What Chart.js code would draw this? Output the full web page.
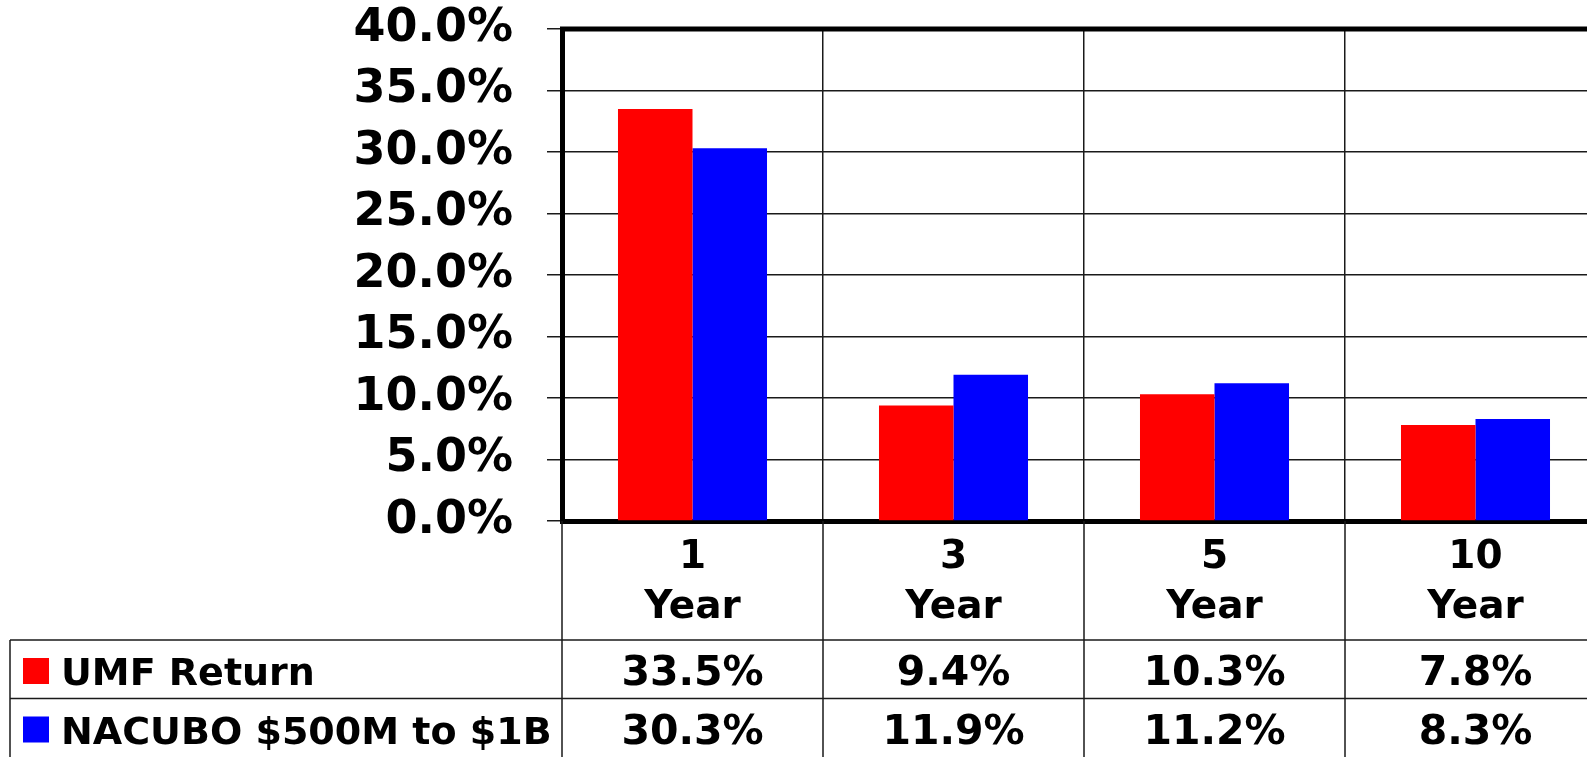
<!DOCTYPE html>
<html lang="en">
<head>
  <meta charset="UTF-8">
  <title>UMF Return vs NACUBO</title>
  <script src="https://cdn.jsdelivr.net/npm/chart.js"></script>
  <style>
    html, body { margin: 0; padding: 0; background: #fff; overflow: hidden; }
  </style>
</head>
<body>
  <canvas id="chartCanvas" width="1612" height="757"></canvas>

  <script>
    // chart data
    const categories = [['1', 'Year'], ['3', 'Year'], ['5', 'Year'], ['10', 'Year']];
    const seriesNames = ['UMF Return', 'NACUBO $500M to $1B'];
    const umfReturn = [33.5, 9.4, 10.3, 7.8];
    const nacuboReturn = [30.3, 11.9, 11.2, 8.3];
    const yMin = 0, yMax = 40, yStep = 5;

    const FONT = '"DejaVu Sans", Verdana, sans-serif';

    // draws the frame and the data table under the x axis
    const dataTable = {
      id: 'dataTable',
      afterDraw(chart) {
        const { ctx, chartArea: a, scales: { x } } = chart;
        const H = chart.height;
        const n = chart.data.labels.length;
        const step = (a.right - a.left) / n;
        const row1 = x.bottom;
        const rowH = (H - row1) / 2;

        ctx.save();
        // thick top / right frame
        ctx.strokeStyle = '#000';
        ctx.lineWidth = 5;
        ctx.beginPath();
        ctx.moveTo(a.left - 2, a.top);
        ctx.lineTo(a.right, a.top);
        ctx.lineTo(a.right, a.bottom);
        ctx.stroke();

        // table grid
        ctx.strokeStyle = '#1a1a1a';
        ctx.lineWidth = 1.5;
        ctx.beginPath();
        ctx.moveTo(10, row1); ctx.lineTo(a.right, row1);
        ctx.moveTo(10, row1 + rowH); ctx.lineTo(a.right, row1 + rowH);
        ctx.moveTo(10, row1); ctx.lineTo(10, H);
        for (let i = 0; i <= n; i++) {
          const xb = a.left + i * step;
          ctx.moveTo(xb, a.bottom); ctx.lineTo(xb, H);
        }
        ctx.stroke();

        // rows: legend key, name, values
        chart.data.datasets.forEach((ds, r) => {
          const top = row1 + r * rowH;
          const base = top + 45;
          ctx.fillStyle = ds.backgroundColor;
          ctx.fillRect(23, top + 18, 26, 26);
          ctx.fillStyle = '#000';
          ctx.textBaseline = 'alphabetic';
          ctx.textAlign = 'left';
          ctx.font = 'bold 38px ' + FONT;
          ctx.fillText(ds.label, 61, base);
          ctx.textAlign = 'center';
          ctx.font = 'bold 41px ' + FONT;
          ds.data.forEach((v, i) => {
            ctx.fillText(v.toFixed(1) + '%', x.getPixelForValue(i), base);
          });
        });
        ctx.restore();
      }
    };

    const ctx = document.getElementById('chartCanvas').getContext('2d');
    new Chart(ctx, {
      type: 'bar',
      data: {
        labels: categories,
        datasets: [
          { label: seriesNames[0], data: umfReturn, backgroundColor: '#ff0000' },
          { label: seriesNames[1], data: nacuboReturn, backgroundColor: '#0000ff' }
        ]
      },
      options: {
        responsive: false,
        animation: false,
        layout: { padding: { top: 29, right: 6, bottom: 117, left: 0 } },
        datasets: { bar: { categoryPercentage: 0.571, barPercentage: 1, borderWidth: 0 } },
        plugins: { legend: { display: false }, tooltip: { enabled: false } },
        scales: {
          x: {
            afterFit(s) { s.height = 119; s.paddingLeft = 0; s.paddingRight = 0; },
            grid: { display: true, offset: true, color: '#1a1a1a', lineWidth: 1.5, drawTicks: false },
            border: { display: true, color: '#000', width: 5 },
            ticks: {
              color: '#000', padding: 12, maxRotation: 0,
              font: { family: FONT, size: 39, weight: 'bold', lineHeight: 1.28 }
            }
          },
          y: {
            min: yMin, max: yMax,
            afterFit(s) { s.width = 562; s.paddingTop = 0; s.paddingBottom = 0; },
            grid: { color: '#1a1a1a', lineWidth: 1.5, drawTicks: true, tickLength: 15, tickColor: '#1a1a1a' },
            border: { display: true, color: '#000', width: 5 },
            ticks: {
              stepSize: yStep, color: '#000', padding: 34,
              font: { family: FONT, size: 46, weight: 'bold' },
              callback: v => v.toFixed(1) + '%'
            }
          }
        }
      },
      plugins: [dataTable]
    });
  </script>
</body>
</html>
